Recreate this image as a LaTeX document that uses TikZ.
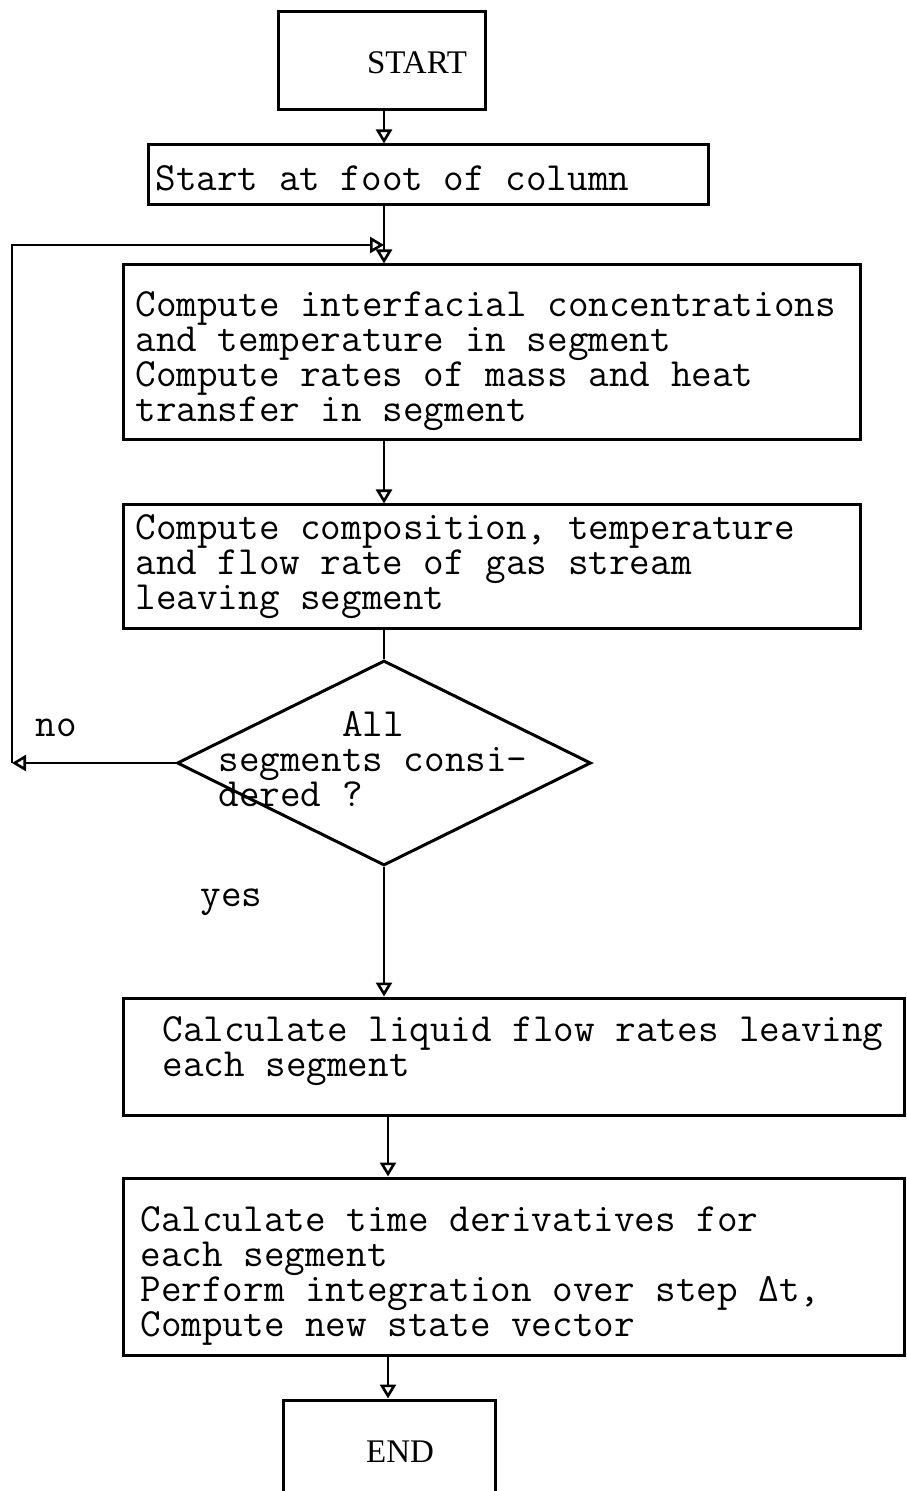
\documentclass[tikz,border=0pt]{standalone}
\usepackage{fontspec}
\newfontfamily\seriff{Liberation Serif}
\usetikzlibrary{arrows.meta,shapes.geometric,fit}
\begin{document}
\begin{tikzpicture}[x=0.5pt,y=-0.5pt,
  box/.style={draw, line width=1.5pt, inner sep=0pt},
  txt/.style={font=\ttfamily\fontsize{20}{17.5}\selectfont, align=left, inner sep=0pt, anchor=west},
  lbl/.style={font=\seriff\fontsize{16.5}{16.5}\selectfont, inner sep=0pt},
  arr/.style={line width=1.3pt, -{Triangle[open,length=7pt,width=8pt]}},
  ln/.style={line width=1.3pt}]
\clip (0,0) rectangle (906,1491);
\fill[white] (0,0) rectangle (906,1491);
% boxes
\node[box, fit={(278,12)(485,110)}] (start) {};
\node[lbl] (startt) at (417,63) {START};
\node[box, fit={(148,145)(708,205)}] (b2) {};
\node[txt] (t2) at (155,178) {Start at foot of column};
\node[box, fit={(123,265)(860,440)}] (b3) {};
\node[txt] (t3) at (135,361) {Compute interfacial concentrations\\and temperature in segment\\Compute rates of mass and heat\\transfer in segment};
\node[box, fit={(123,505)(860,628)}] (b4) {};
\node[txt] (t4) at (135,567) {Compute composition, temperature\\and flow rate of gas stream\\leaving segment};
\node[draw, diamond, line width=1.5pt, minimum width=207pt, minimum height=102.5pt, inner sep=0pt] (dec) at (384,763) {};
\node[txt] (td) at (218,759) {\phantom{segmen}All\\segments consi-\\dered ?};
\node[txt] (tno) at (35,728) {no};
\node[txt] (tyes) at (200,902) {yes};
\node[box, fit={(123,998)(904,1115)}] (b5) {};
\node[txt] (t5) at (162,1051) {Calculate liquid flow rates leaving\\each segment};
\node[box, fit={(123,1178)(904,1355)}] (b6) {};
\node[txt] (t6) at (140,1276) {Calculate time derivatives for\\each segment\\Perform integration over step Δt,\\Compute new state vector};
\node[box, fit={(283,1400)(495,1510)}] (end) {};
\node[lbl] (endt) at (400,1452) {END};
% connectors
\coordinate (cx) at (384,0);
\coordinate (cy) at (388,0);
\coordinate (lx) at (12,0);
\coordinate (jn) at (384,245);
\draw[arr] (start.south -| cx) -- (b2.north -| cx);
\draw[arr] (b2.south -| cx) -- (b3.north -| cx);
\draw[arr] (dec.west) -- (dec.west -| lx);
\draw[arr] (dec.west -| lx) |- (jn);
\draw[arr] (b3.south -| cx) -- (b4.north -| cx);
\draw[ln] (b4.south -| cx) -- (dec.north);
\draw[arr] (dec.south) -- (b5.north -| dec.south);
\draw[arr] (b5.south -| cy) -- (b6.north -| cy);
\draw[arr] (b6.south -| cy) -- (end.north -| cy);
\end{tikzpicture}
\end{document}
